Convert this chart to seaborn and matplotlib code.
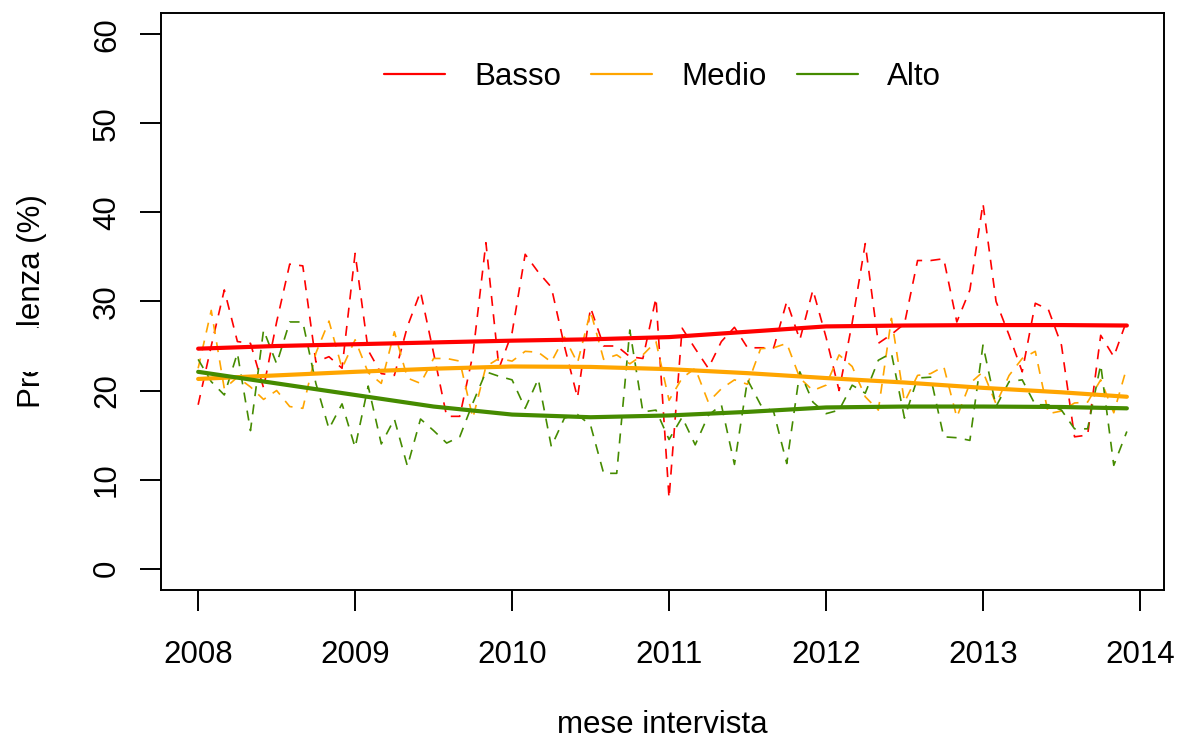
import matplotlib
matplotlib.use("Agg")
import matplotlib.pyplot as plt
import numpy as np
import pandas as pd
import seaborn as sns
from matplotlib.lines import Line2D
from matplotlib.patches import Rectangle

# ---------------- data ----------------
month_index = list(range(72))          # Jan 2008 ... Dec 2013
start_year = 2008

basso = [18.4, 25.0, 31.3, 25.5, 25.3, 20.3, 27.7, 34.2, 34.0, 23.2, 23.8, 22.5,
         35.4, 24.5, 21.9, 21.7, 27.2, 31.1, 24.2, 17.1, 17.1, 24.0, 36.6, 22.5,
         26.5, 35.3, 33.3, 31.6, 25.0, 19.2, 29.3, 25.0, 25.0, 23.8, 23.6, 30.4,
         7.9, 27.0, 24.7, 22.5, 25.5, 27.1, 24.8, 24.8, 24.8, 30.0, 25.7, 31.3,
         26.0, 20.0, 27.6, 36.5, 25.3, 26.3, 27.5, 34.6, 34.6, 34.8, 27.7, 31.3,
         41.0, 30.0, 26.2, 22.1, 29.8, 29.1, 25.1, 14.8, 15.0, 26.2, 23.8, 27.9]

medio = [22.5, 29.0, 20.2, 21.5, 20.4, 19.0, 20.0, 18.2, 18.0, 24.2, 27.8, 22.5,
         25.7, 22.0, 20.8, 26.6, 21.4, 20.8, 23.6, 23.6, 23.3, 16.9, 22.7, 23.6,
         23.3, 24.4, 24.3, 23.2, 26.0, 23.1, 28.9, 23.5, 24.0, 23.0, 24.0, 25.5,
         18.9, 21.4, 22.5, 18.7, 20.2, 21.2, 20.7, 24.7, 24.8, 25.3, 21.4, 20.0,
         20.6, 24.0, 22.7, 19.3, 17.8, 28.1, 18.7, 21.7, 21.9, 22.7, 17.0, 20.8,
         22.1, 18.5, 21.7, 23.6, 24.4, 17.4, 17.7, 18.6, 18.7, 21.2, 17.5, 22.6]

alto = [23.5, 21.0, 19.5, 24.2, 15.5, 26.8, 23.0, 27.7, 27.7, 20.8, 15.7, 18.5,
        13.6, 20.5, 14.0, 16.8, 11.5, 16.8, 15.5, 14.1, 14.8, 18.6, 22.1, 21.6,
        21.2, 18.0, 21.3, 13.7, 16.9, 17.3, 16.1, 10.7, 10.7, 26.8, 17.6, 17.8,
        14.5, 17.0, 13.9, 17.2, 18.4, 11.7, 21.2, 18.4, 17.6, 11.8, 22.1, 18.7,
        17.4, 17.8, 20.6, 19.7, 23.4, 24.2, 16.9, 21.4, 21.5, 14.8, 14.7, 14.4,
        25.1, 18.2, 21.0, 21.2, 18.4, 18.4, 17.8, 15.7, 15.7, 22.9, 11.6, 15.4]

# smoothed trend curves, read every six months
smooth_x = [2008.0, 2008.5, 2009.0, 2009.5, 2010.0, 2010.5, 2011.0,
            2011.5, 2012.0, 2012.5, 2013.0, 2013.5, 2013 + 11 / 12]
basso_smooth = [24.7, 25.0, 25.2, 25.4, 25.6, 25.75, 26.0, 26.6, 27.2, 27.3, 27.35, 27.35, 27.3]
medio_smooth = [21.3, 21.7, 22.1, 22.45, 22.7, 22.65, 22.4, 21.95, 21.4, 20.9, 20.3, 19.8, 19.3]
alto_smooth = [22.1, 20.8, 19.5, 18.2, 17.3, 17.0, 17.2, 17.6, 18.1, 18.2, 18.2, 18.15, 18.0]

groups = ["Basso", "Medio", "Alto"]
colors = {"Basso": "#FF0000", "Medio": "#FFA500", "Alto": "#458B00"}

x_ticks = [2008, 2009, 2010, 2011, 2012, 2013, 2014]
y_ticks = [0, 10, 20, 30, 40, 50, 60]

x_label = "mese intervista"
y_label = "Prevalenza (%)"

# ---------------- figure ----------------
sns.set_theme(style="ticks")
plt.rcParams["font.family"] = ["Liberation Sans", "DejaVu Sans"]
plt.rcParams["text.color"] = "black"
plt.rcParams["axes.labelcolor"] = "black"
plt.rcParams["xtick.color"] = "black"
plt.rcParams["ytick.color"] = "black"

FS = 22.5
fig = plt.figure(figsize=(11.8, 7.41), dpi=100)
ax = fig.add_axes([0.1364, 0.2038, 0.85, 0.7787])

months = [start_year + m / 12 for m in month_index]
raw = {"Basso": basso, "Medio": medio, "Alto": alto}
smooth = {"Basso": basso_smooth, "Medio": medio_smooth, "Alto": alto_smooth}

for g in groups:
    df = pd.DataFrame({"mese": months, "val": raw[g]})
    sns.lineplot(data=df, x="mese", y="val", color=colors[g], linewidth=1.2,
                 ax=ax, estimator=None, legend=False)
    ax.lines[-1].set_dashes((6, 5))

for g in groups:
    df = pd.DataFrame({"mese": smooth_x, "val": smooth[g]})
    sns.lineplot(data=df, x="mese", y="val", color=colors[g], linewidth=3.0,
                 ax=ax, estimator=None, legend=False)

ax.set_xlim(2007.763, 2014.153)
ax.set_ylim(-2.4, 62.4)
ax.set_xticks(x_ticks)
ax.set_xticklabels([str(t) for t in x_ticks])
ax.set_yticks(y_ticks)
ax.set_yticklabels([str(t) for t in y_ticks])

ax.tick_params(axis="both", direction="out", length=15, width=1.4,
               labelsize=FS, colors="black", labelcolor="black")
ax.tick_params(axis="x", pad=21)
ax.tick_params(axis="y", pad=13, labelrotation=90)
for lbl in ax.get_yticklabels():
    lbl.set_va("center")

for sp in ax.spines.values():
    sp.set_linewidth(1.4)
    sp.set_color("black")
    sp.set_visible(True)

ax.set_xlabel(x_label, fontsize=FS, color="black")
ax.set_ylabel(y_label, fontsize=FS, color="black")
ax.xaxis.set_label_coords(0.5, -0.208)
ax.yaxis.set_label_coords(-0.114, 0.5)
ax.grid(False)

handles = [Line2D([0], [0], color=colors[g], linewidth=1.6) for g in groups]
leg = ax.legend(handles, groups, loc="center", bbox_to_anchor=(0.5, 0.889), ncol=3,
                frameon=False, fontsize=FS, handlelength=1.95, handletextpad=0.95,
                columnspacing=0.95)
for t in leg.get_texts():
    t.set_color("black")

# part of the y label is hidden in the original
fig.add_artist(Rectangle((5 / 1180, 1 - 372 / 741), 45 / 1180, 44 / 741,
                         transform=fig.transFigure, facecolor="white",
                         edgecolor="none", zorder=10))

fig.savefig("out.png", dpi=100)
